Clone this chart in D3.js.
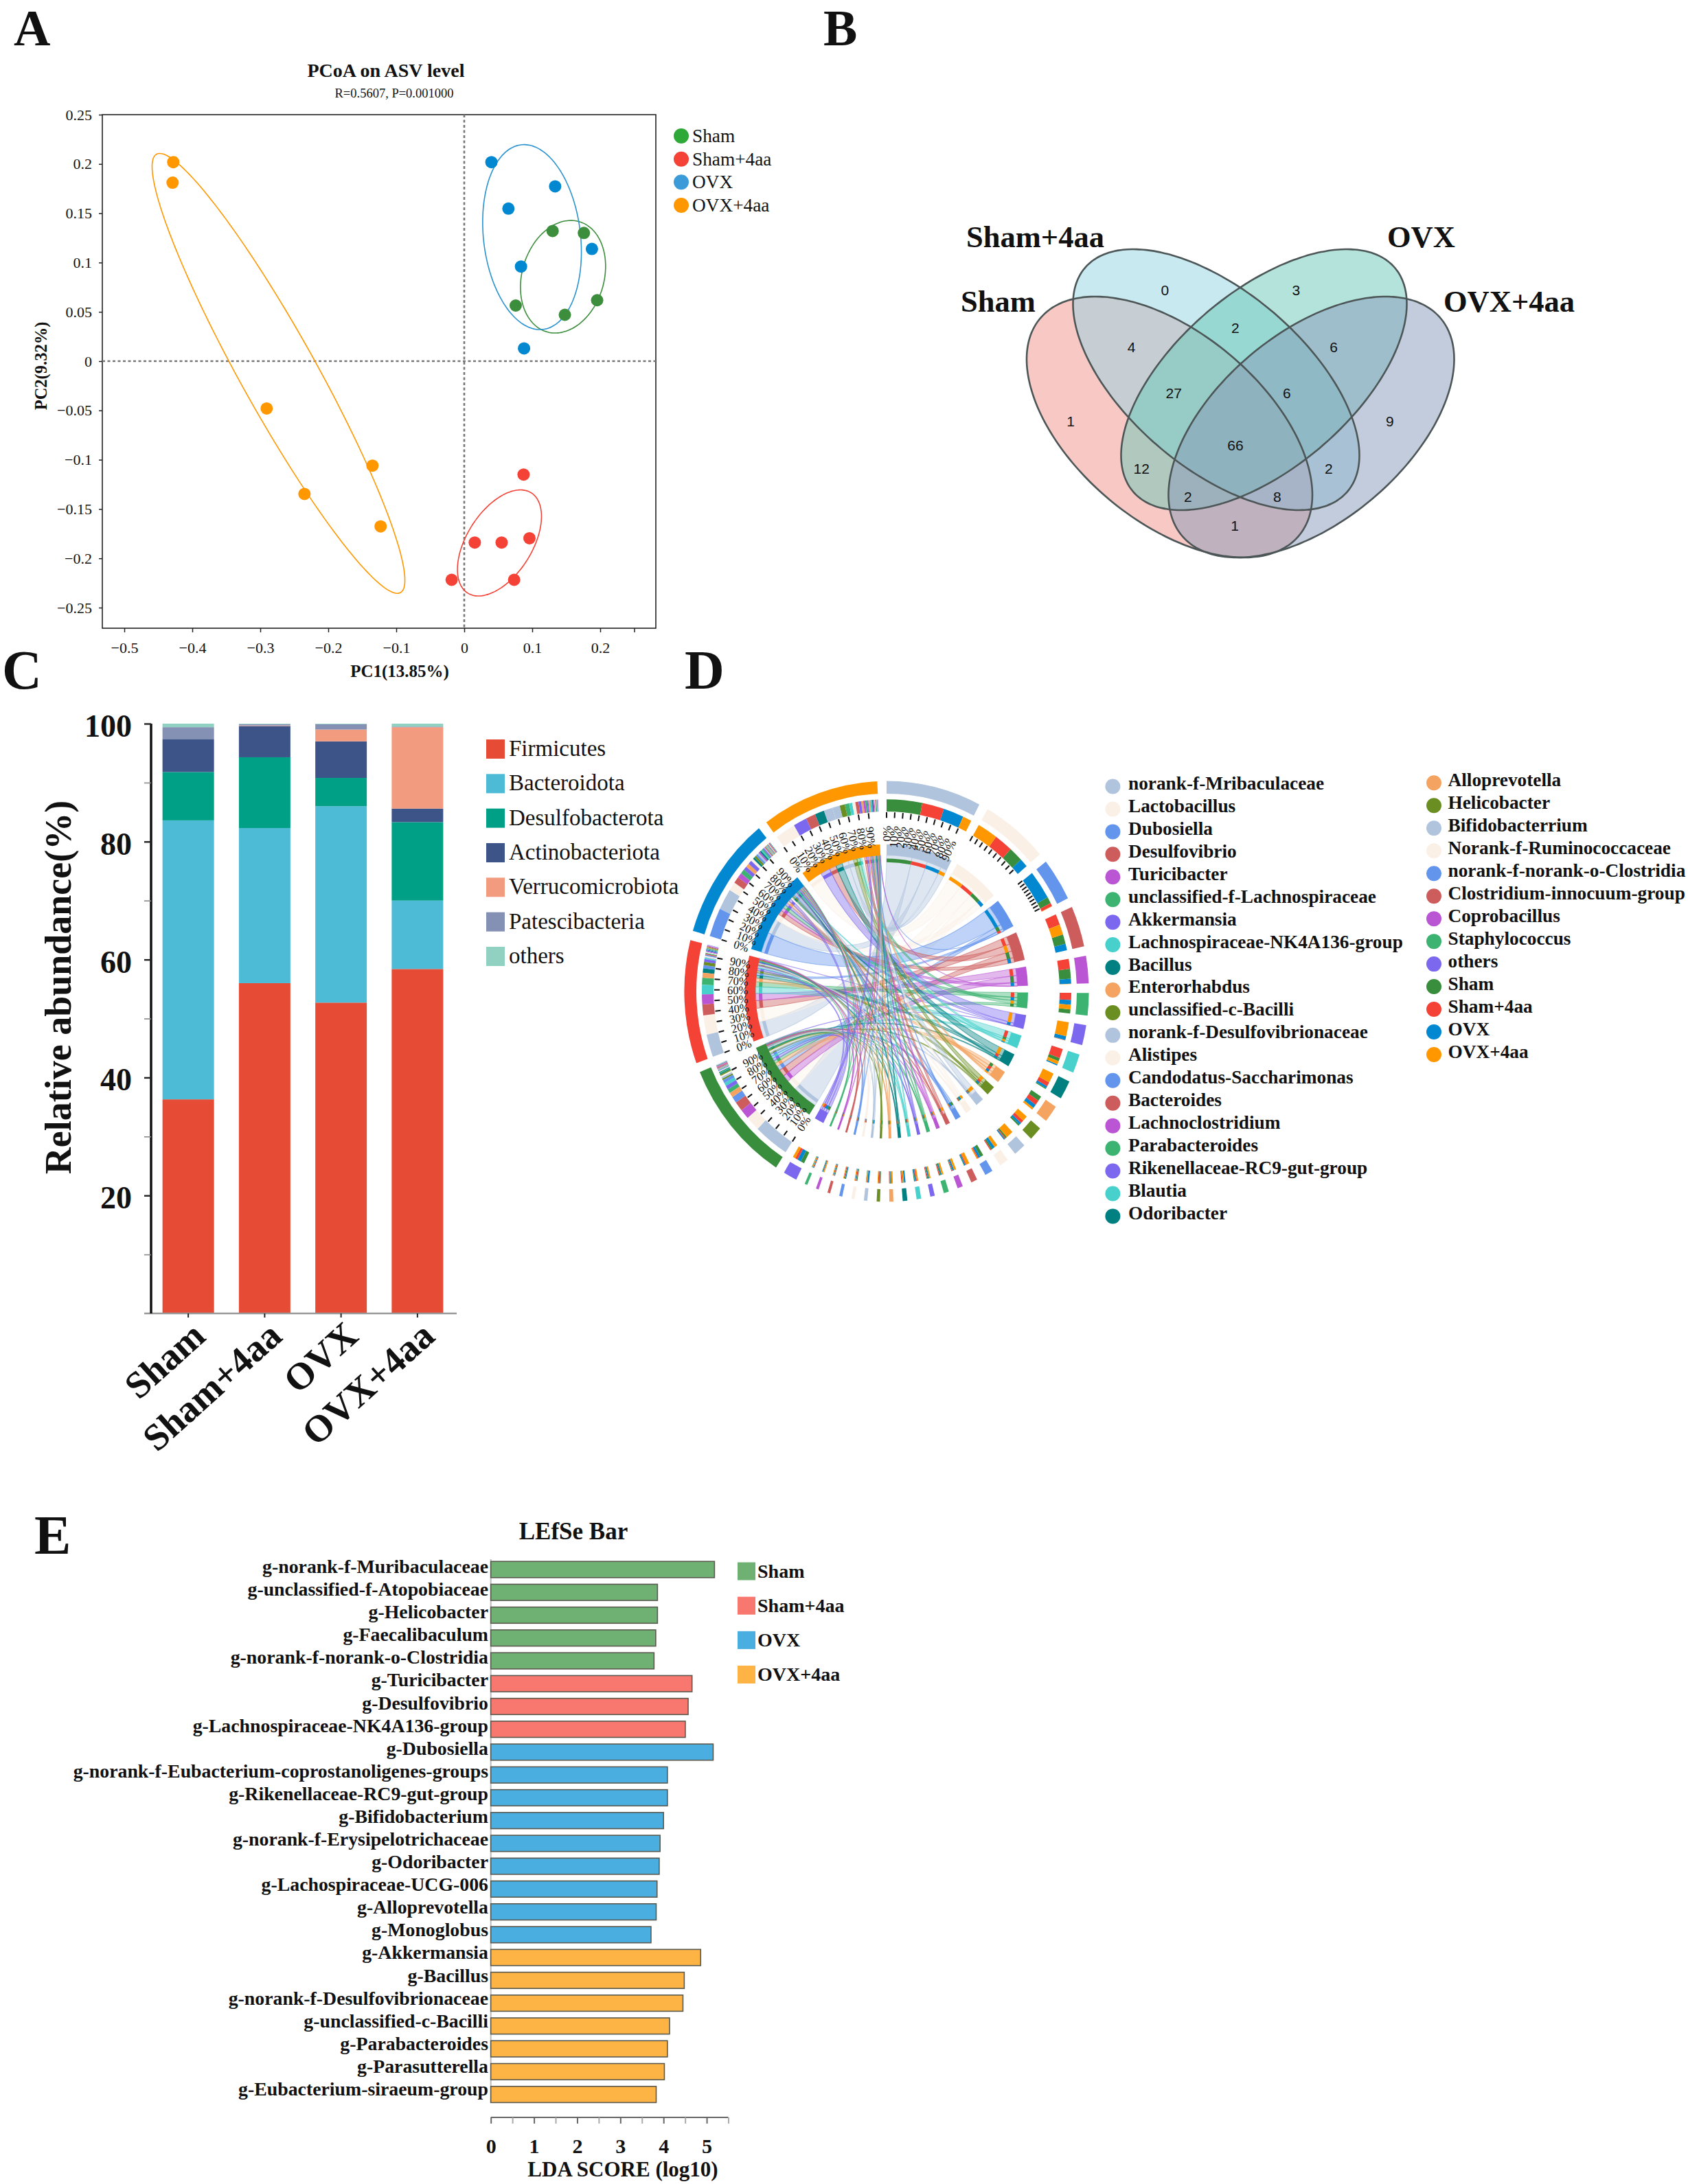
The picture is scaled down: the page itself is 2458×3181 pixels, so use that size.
<!DOCTYPE html>
<html><head><meta charset="utf-8">
<script src="https://cdn.jsdelivr.net/npm/d3@7/dist/d3.min.js"></script>
<style>html,body{margin:0;padding:0;background:#fff}svg{display:block}text{font-family:"Liberation Serif","Times New Roman",serif;fill:#111}</style>
</head><body><svg id="c" width="2458" height="3181"></svg>
<script>
// ---------- shared ----------
const groupNames = ["Sham","Sham+4aa","OVX","OVX+4aa"];
// ---------- A: PCoA ----------
const pcoaSham   = [[0.13,0.132],[0.176,0.13],[0.0757,0.0564],[0.148,0.047],[0.1955,0.0618]];
const pcoaShamAa = [[0.0873,-0.115],[0.0155,-0.184],[0.055,-0.184],[0.096,-0.1796],[0.0734,-0.2218],[-0.0185,-0.2218]];
const pcoaOvx    = [[0.04,0.2018],[0.1337,0.1773],[0.065,0.1547],[0.1878,0.1138],[0.0835,0.096],[0.088,0.0129]];
const pcoaOvxAa  = [[-0.428,0.2018],[-0.429,0.181],[-0.2906,-0.048],[-0.135,-0.106],[-0.235,-0.1347],[-0.123,-0.1676]];
// ellipse: centre x, half-width, centre y, half-height, correlation
const pcoaEllipses = [[0.1453,0.0626,0.0856,0.0571,0.185],[0.0518,0.0618,-0.1844,0.0538,0.5],[0.0997,0.0726,0.1258,0.0938,-0.16],[-0.2732,0.1859,-0.01244,0.2231,-0.94]];
const pcoaXTicks = [-0.5,-0.4,-0.3,-0.2,-0.1,0,0.1,0.2,0.25];
const pcoaYTicks = [-0.25,-0.2,-0.15,-0.1,-0.05,0,0.05,0.1,0.15,0.2,0.25];
// ---------- B: Venn ----------
const vennCounts = [0,3,2,4,6,27,6,1,9,66,12,2,2,8,1];
// ---------- C: stacked bars ----------
const phyla = ["Firmicutes","Bacteroidota","Desulfobacterota","Actinobacteriota","Verrucomicrobiota","Patescibacteria","others"];
const stackSham   = [36.3,47.3,8.2,5.6,0.0,2.0,0.6];
const stackShamAa = [56.0,26.3,12.0,5.3,0.1,0.2,0.1];
const stackOvx    = [52.7,33.3,4.8,6.2,2.0,0.9,0.1];
const stackOvxAa  = [58.4,11.6,13.3,2.3,13.8,0.1,0.5];
const stackTicks = [10,20,30,40,50,60,70,80,90,100];
// ---------- D: chord ----------
const genera = ["norank-f-Mribaculaceae","Lactobacillus","Dubosiella","Desulfovibrio","Turicibacter","unclassified-f-Lachnospiraceae","Akkermansia","Lachnospiraceae-NK4A136-group","Bacillus","Enterorhabdus","unclassified-c-Bacilli","norank-f-Desulfovibrionaceae","Alistipes","Candodatus-Saccharimonas","Bacteroides","Lachnoclostridium","Parabacteroides","Rikenellaceae-RC9-gut-group","Blautia","Odoribacter","Alloprevotella","Helicobacter","Bifidobacterrium","Norank-f-Ruminococcaceae","norank-f-norank-o-Clostridia","Clostridium-innocuum-group","Coprobacillus","Staphylococcus","others"];
const chordSham   = [34,13.6,6,8.8,9,3.8,0.2,3,1,4.5,1.5,1.5,1.5,3,0.5,0.5,0.9,0.7,0.7,0.8,0.7,1.1,0.4,0.8,0.7,0.6,0.5,0.5,3.5];
const chordShamAa = [21,17.7,3,10.1,9.1,6.5,0.3,8.7,4,4.5,3,1,1,1,1,0.7,0.8,0.7,1.1,0.7,0.6,0.6,0.5,0.8,0.7,0.6,0.6,0.7,2.5];
const chordOvx    = [19.5,8,26.5,6,4.5,4.3,3.5,1.2,2,3.5,2,1,2.5,2,1,1.5,1.2,1.2,1,1.5,0.9,0.6,1.6,0.6,0.8,0.6,0.6,0.6,3.5];
const chordOvxAa  = [8.5,19.5,0.3,9.3,0.3,4.2,12.9,3,8.9,2,5,7,3,1,3,2,1.6,1.3,1.2,1,1.3,0.6,0.5,0.6,0.5,0.6,0.7,0.6,2.5];
const chordTicks = [0,10,20,30,40,50,60,70,80,90];
// ---------- E: LEfSe ----------
const lefseNames = ["g-norank-f-Muribaculaceae","g-unclassified-f-Atopobiaceae","g-Helicobacter","g-Faecalibaculum","g-norank-f-norank-o-Clostridia","g-Turicibacter","g-Desulfovibrio","g-Lachnospiraceae-NK4A136-group","g-Dubosiella","g-norank-f-Eubacterium-coprostanoligenes-groups","g-Rikenellaceae-RC9-gut-group","g-Bifidobacterium","g-norank-f-Erysipelotrichaceae","g-Odoribacter","g-Lachospiraceae-UCG-006","g-Alloprevotella","g-Monoglobus","g-Akkermansia","g-Bacillus","g-norank-f-Desulfovibrionaceae","g-unclassified-c-Bacilli","g-Parabacteroides","g-Parasutterella","g-Eubacterium-siraeum-group"];
const lefseScores = [5.18,3.86,3.86,3.82,3.78,4.66,4.57,4.505,5.15,4.09,4.09,4.0,3.92,3.90,3.85,3.83,3.71,4.86,4.48,4.45,4.14,4.09,4.02,3.83];
const lefseGroups = [0,0,0,0,0,1,1,1,2,2,2,2,2,2,2,2,2,3,3,3,3,3,3,3];
const lefseTicks = [0,1,2,3,4,5];

const svg = d3.select("#c");
const txt = (g,s,x,y,size,o={})=>g.append("text").attr("x",x).attr("y",y).attr("font-size",size)
  .attr("font-weight",o.w||"normal").attr("text-anchor",o.a||"start").attr("transform",o.t||null).text(s);

// panel letters
[["A",20,66,74],["B",1199,66,74],["C",3,1003,80],["D",997,1003,80],["E",50,2263,80]].forEach(d=>txt(svg,d[0],d[1],d[2],d[3],{w:"bold"}));

// ===== A =====
{
  const colDots=["#3C8E3C","#F44336","#0288D1","#FF9800"], colLegend=["#2EA836","#F44336","#3A9BD8","#FF9800"];
  const g=svg.append("g");
  const x=d3.scaleLinear([-0.5,0.25],[181,923.5]), y=d3.scaleLinear([-0.25,0.25],[885,167]);
  const L=149,R=955,T=167,B=915;
  g.append("rect").attr("x",L).attr("y",T).attr("width",R-L).attr("height",B-T).attr("fill","none").attr("stroke","#222").attr("stroke-width",1.6);
  const ax=g.append("g").attr("transform",`translate(0,${B})`).call(d3.axisBottom(x).tickValues(pcoaXTicks).tickSize(6).tickPadding(10).tickFormat(d=>d===0.25?"":d3.format("")(d)));
  const ay=g.append("g").attr("transform",`translate(${L},0)`).call(d3.axisLeft(y).tickValues(pcoaYTicks).tickSize(5).tickPadding(10).tickFormat(d=>d3.format("")(d)));
  [ax,ay].forEach(a=>{a.select(".domain").remove();a.selectAll("text").attr("font-size",22).attr("font-family",null);a.selectAll("line").attr("stroke","#222").attr("stroke-width",1.5);});
  ax.selectAll("text").attr("dy","0.9em");
  g.append("line").attr("x1",x(0)).attr("x2",x(0)).attr("y1",T).attr("y2",B).attr("stroke","#777").attr("stroke-width",2.6).attr("stroke-dasharray","4 3.5");
  g.append("line").attr("x1",L).attr("x2",R).attr("y1",y(0)).attr("y2",y(0)).attr("stroke","#777").attr("stroke-width",2.6).attr("stroke-dasharray","4 3.5");
  const th=d3.range(0,6.3,0.04);
  pcoaEllipses.forEach((e,i)=>{
    const phi=Math.acos(e[4]);
    const pts=th.map(t=>[x(e[0]+e[1]*Math.cos(t)),y(e[2]+e[3]*Math.cos(t-phi))]);
    g.append("path").attr("d",d3.line().curve(d3.curveCardinalClosed)(pts)).attr("fill","none").attr("stroke",colDots[i]==="#0288D1"?"#2a93cf":colDots[i]).attr("stroke-width",1.6);
  });
  [pcoaSham,pcoaShamAa,pcoaOvx,pcoaOvxAa].forEach((s,i)=>g.selectAll(null).data(s).join("circle").attr("cx",d=>x(d[0])).attr("cy",d=>y(d[1])).attr("r",9).attr("fill",colDots[i]));
  txt(g,"PCoA on ASV level",562,112,28,{w:"bold",a:"middle"});
  txt(g,"R=0.5607, P=0.001000",574,142,18.5,{a:"middle"});
  txt(g,"PC1(13.85%)",582,986,25,{w:"bold",a:"middle"});
  txt(g,"PC2(9.32%)",0,0,24.5,{w:"bold",a:"middle",t:"translate(68,533) rotate(-90)"});
  const ly=d3.scalePoint(groupNames,[198,299]);
  groupNames.forEach((n,i)=>{g.append("circle").attr("cx",992).attr("cy",ly(n)).attr("r",11).attr("fill",colLegend[i]);txt(g,n,1008,ly(n)+9,27.3);});
}

// ===== B =====
{
  const g=svg.append("g");
  const cells=[[592,400],[877,398],[745,552],[519,630],[959,630],[611,820],[857,820],[387,935],[1081,935],[745,1032],[541,1128],[948,1128],[642,1243],[836,1243],[744,1358]];
  const vy=d3.scaleLinear([0,1568],[280,840]);
  const vx2=z=>1300+z*1050/1568;
  const shapes=[[1703,208,622,190,-0.52,"#F19189"],[1771,208.5,553,190,-0.58,"#93D3E3"],[1840.5,208,553,190,0.58,"#67C7B5"],[1909.5,208,622,190,0.52,"#8799B9"]];
  const th=d3.range(0,6.3,0.04);
  shapes.forEach(e=>{
    const phi=Math.acos(e[4]);
    const pts=th.map(t=>[e[0]+e[1]*Math.cos(t),e[2]-e[3]*Math.cos(t-phi)]);
    g.append("path").attr("d",d3.line().curve(d3.curveCardinalClosed)(pts)).attr("fill",e[5]).attr("fill-opacity",0.5);
  });
  shapes.forEach(e=>{
    const phi=Math.acos(e[4]);
    const pts=th.map(t=>[e[0]+e[1]*Math.cos(t),e[2]-e[3]*Math.cos(t-phi)]);
    g.append("path").attr("d",d3.line().curve(d3.curveCardinalClosed)(pts)).attr("fill","none").attr("stroke","#4d5657").attr("stroke-width",2.6);
  });
  vennCounts.forEach((c,i)=>{
    g.append("text").attr("x",vx2(cells[i][0])).attr("y",vy(cells[i][1])).attr("dy","0.36em").attr("text-anchor","middle")
     .style("font-family","'Liberation Sans',Arial,sans-serif").attr("font-size",21).text(c);
  });
  txt(g,"Sham+4aa",1407,360,44.5,{w:"bold"});
  txt(g,"OVX",2020,360,44.5,{w:"bold"});
  txt(g,"Sham",1399,454,44.5,{w:"bold"});
  txt(g,"OVX+4aa",2102,454,44.5,{w:"bold"});
}

// ===== C =====
{
  const g=svg.append("g");
  const colors=["#E64B35","#4DBBD5","#00A087","#3C5488","#F39B7F","#8491B4","#91D1C2"];
  const x=d3.scaleBand(groupNames,[218.5,663.5]).paddingInner(0.3258).paddingOuter(0.163);
  const y=d3.scaleLinear([0,100],[1913,1054]);
  const rows=[stackSham,stackShamAa,stackOvx,stackOvxAa].map((r,i)=>{const o={group:groupNames[i]};phyla.forEach((p,k)=>o[p]=r[k]);return o;});
  const series=d3.stack().keys(phyla)(rows);
  series.forEach((s,k)=>g.selectAll(null).data(s).join("rect").attr("x",d=>x(d.data.group)).attr("width",x.bandwidth()).attr("y",d=>y(d[1])).attr("height",d=>y(d[0])-y(d[1])).attr("fill",colors[k]));
  const ax=g.append("g").attr("transform","translate(0,1913)").call(d3.axisBottom(x).tickSize(6).tickFormat(""));
  ax.select(".domain").attr("d","M210,0H665").attr("stroke","#999").attr("stroke-width",2.5);
  ax.selectAll("line").attr("stroke","#222").attr("stroke-width",2);
  const ay=g.append("g").attr("transform","translate(220,0)").call(d3.axisLeft(y).tickValues(stackTicks).tickSize(10).tickPadding(18).tickFormat(d=>d%20?"":d));
  ay.select(".domain").attr("d","M0,1054V1913").attr("stroke","#111").attr("stroke-width",3.5);
  ay.selectAll("line").attr("stroke",d=>d%20?"#888":"#222").attr("stroke-width",d=>d%20?1.6:2.4);
  ay.selectAll("text").attr("font-size",46).attr("font-weight","bold").attr("font-family",null).attr("dy","0.4em");
  txt(g,"Relative abundance(%)",0,0,54,{w:"bold",a:"middle",t:"translate(103,1438) rotate(-90)"});
  groupNames.forEach(n=>txt(g,n,0,0,55,{w:"bold",a:"end",t:`translate(${x(n)+x.bandwidth()/2+28},1950) rotate(-42)`}));
  const ly=d3.scalePoint(phyla,[1091,1393]);
  phyla.forEach((p,k)=>{g.append("rect").attr("x",708).attr("y",ly(p)-14).attr("width",27).attr("height",28).attr("fill",colors[k]);txt(g,p,741,ly(p)+10,33);});
}

// ===== D =====
{
  const palette=["#B0C4DE","#FAF0E6","#6495ED","#CD5C5C","#BA55D3","#3CB371","#7B68EE","#48D1CC","#008080","#F4A460","#6B8E23"];
  const groupCols=["#388E3C","#F44336","#0288D1","#FF9800"];
  const nG=genera.length, n=nG+4;
  const col=i=>i<nG?palette[i%palette.length]:groupCols[i-nG];
  const columns=[chordSham,chordShamAa,chordOvx,chordOvxAa];
  const M=d3.range(n).map(()=>d3.range(n).map(()=>0));
  columns.forEach((c,j)=>c.forEach((v,i)=>{M[i][nG+j]=v;M[nG+j][i]=v;}));
  const gap=2.65*Math.PI/180;
  const chords=d3.chord().padAngle(gap).sortSubgroups(d3.descending)(M);
  const g=svg.append("g").attr("transform","translate(1291,1444) scale(1,1.04)");
  const R={oo:294.6,oi:277,so:269,si:252,to:251,ti:243,lab:232,io:206,ii:190.6,ro:186,ri:181};
  const ribbon=d3.ribbon().radius(R.ii);
  g.append("g").selectAll("path").data(chords).join("path").attr("d",ribbon)
    .attr("fill",d=>col(Math.min(d.source.index,d.target.index))).attr("fill-opacity",0.42)
    .attr("stroke",d=>col(Math.min(d.source.index,d.target.index))).attr("stroke-opacity",0.6).attr("stroke-width",1);
  const arc=(a,b,s,e)=>d3.arc()({innerRadius:a,outerRadius:b,startAngle:s,endAngle:e});
  chords.groups.forEach(G=>{
    g.append("path").attr("d",arc(R.oi,R.oo,G.startAngle,G.endAngle)).attr("fill",col(G.index));
    g.append("path").attr("d",arc(R.ii,R.io,G.startAngle,G.endAngle)).attr("fill",col(G.index));
  });
  chords.forEach(c=>{
    [[c.source,c.target],[c.target,c.source]].forEach(([a,b])=>{
      g.append("path").attr("d",arc(R.si,R.so,a.startAngle,a.endAngle)).attr("fill",col(b.index));
      g.append("path").attr("d",arc(R.ri,R.ro,a.startAngle,a.endAngle)).attr("fill",col(b.index));
    });
  });
  const ticked=chords.groups.filter(G=>G.index<3||G.index>=nG);
  ticked.forEach(G=>{
    const t=d3.scaleLinear([0,100],[G.startAngle,G.endAngle]);
    chordTicks.forEach(p=>{
      const a=t(p), deg=a*180/Math.PI-90;
      g.append("line").attr("x1",R.ti).attr("x2",R.to).attr("transform",`rotate(${deg})`).attr("stroke","#111").attr("stroke-width",2);
      if(G.index===0||G.index>=nG){
        const flip=a>Math.PI;
        g.append("text").attr("font-size",16.5).attr("dy","0.35em").attr("text-anchor",flip?"start":"end")
         .attr("transform",`rotate(${deg}) translate(${R.lab},0)${flip?" rotate(180)":""}`).text(p+"%");
      }
    });
  });
  const names=genera.concat(groupNames);
  const y1=d3.scaleLinear([0,19],[1145.5,1771.4]), y2=d3.scaleLinear([0,12],[1140.3,1536]);
  const lg=svg.append("g");
  names.forEach((nm,i)=>{
    const first=i<20, k=first?i:i-20, cy=first?y1(k):y2(k), cx=first?1620.4:2088, tx=first?1643:2108.5;
    lg.append("circle").attr("cx",cx).attr("cy",cy).attr("r",11).attr("fill",col(i));
    txt(lg,nm,tx,cy+4.5,27.3,{w:"bold"});
  });
}

// ===== E =====
{
  const g=svg.append("g");
  const colors=["#6FB073","#F8786F","#4BAEE0","#FEB445"];
  const x=d3.scaleLinear([0,5.5],[714.7,1060.5]);
  const y=d3.scaleBand(lefseNames,[2269.4,3067.2]).paddingInner(0.29).paddingOuter(0.145);
  const yLabel=d3.scalePoint(lefseNames,[2291,3052]);
  g.append("line").attr("x1",714.7).attr("x2",714.7).attr("y1",2271).attr("y2",3063).attr("stroke","#bbb").attr("stroke-width",2);
  g.selectAll(null).data(lefseNames).join("rect").attr("x",x(0)).attr("y",d=>y(d)).attr("height",y.bandwidth())
    .attr("width",(d,i)=>x(lefseScores[i])-x(0)).attr("fill",(d,i)=>colors[lefseGroups[i]]).attr("stroke","#5a5a50").attr("stroke-width",1.6);
  lefseNames.forEach(n=>txt(g,n,711,yLabel(n),27.8,{w:"bold",a:"end"}));
  const ax=g.append("g").attr("transform","translate(0,3084)").call(d3.axisBottom(x).tickValues(d3.range(0,5.51,0.5)).tickSize(9).tickPadding(22).tickFormat(d=>lefseTicks.includes(d)?d:""));
  ax.select(".domain").attr("stroke","#666").attr("stroke-width",2.2).attr("d","M714.7,0H1060.5");
  ax.selectAll("line").attr("stroke",d=>d%1?"#aaa":"#666").attr("stroke-width",2);
  ax.selectAll("text").attr("font-size",30).attr("font-weight","bold").attr("font-family",null);
  txt(g,"LEfSe Bar",835,2242,35,{w:"bold",a:"middle"});
  txt(g,"LDA SCORE (log10)",907,3170,31,{w:"bold",a:"middle"});
  const ly=d3.scalePoint(groupNames,[2288.5,2439]);
  groupNames.forEach((n,i)=>{g.append("rect").attr("x",1074).attr("y",ly(n)-13).attr("width",26).attr("height",26).attr("fill",colors[i]);txt(g,n,1103,ly(n)+9,28,{w:"bold"});});
}
</script></body></html>
